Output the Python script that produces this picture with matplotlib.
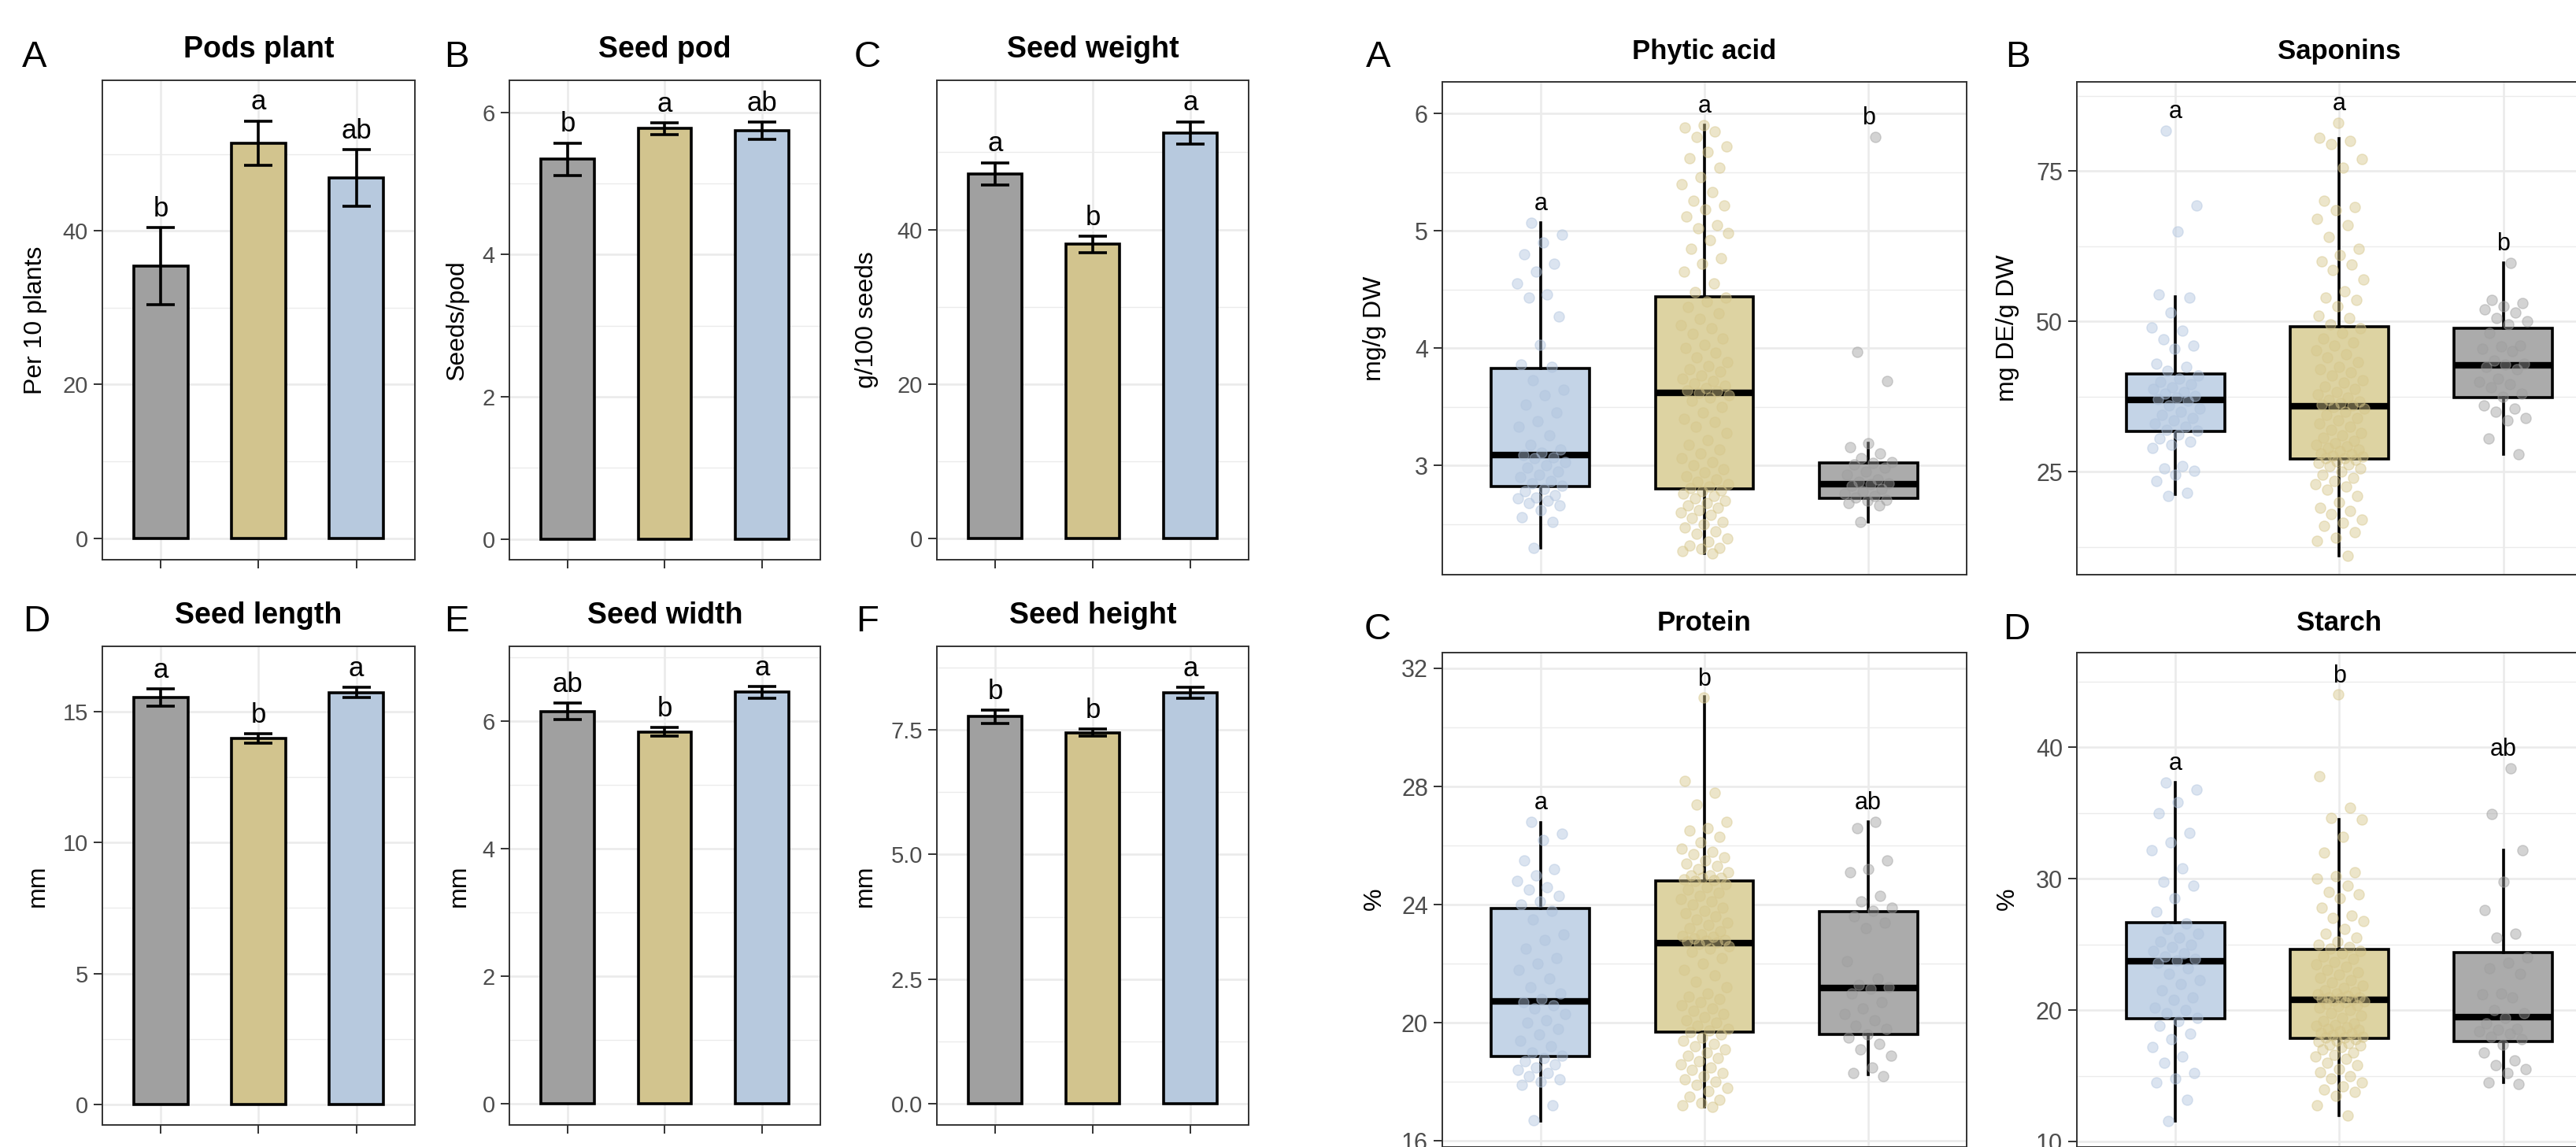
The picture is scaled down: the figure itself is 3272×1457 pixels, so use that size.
import matplotlib.pyplot as plt
import numpy as np

plt.rcParams["font.family"] = ["Liberation Sans", "DejaVu Sans"]

W, H = 3273, 1457
DPI = 100

# ---------------- bar panels (left figure) ----------------
bar_titles = ["Pods plant", "Seed pod", "Seed weight", "Seed length", "Seed width", "Seed height"]
bar_tags = ["A", "B", "C", "D", "E", "F"]
bar_ylabels = ["Per 10 plants", "Seeds/pod", "g/100 seeds", "mm", "mm", "mm"]
bar_means = [
    [35.4, 51.4, 46.9],
    [5.34, 5.77, 5.74],
    [47.2, 38.1, 52.5],
    [15.54, 13.97, 15.73],
    [6.15, 5.83, 6.45],
    [7.76, 7.44, 8.24],
]
bar_se = [
    [5.05, 2.9, 3.65],
    [0.23, 0.08, 0.125],
    [1.45, 1.05, 1.45],
    [0.33, 0.19, 0.20],
    [0.13, 0.065, 0.09],
    [0.13, 0.075, 0.105],
]
bar_letters = [
    ["b", "a", "ab"],
    ["b", "a", "ab"],
    ["a", "b", "a"],
    ["a", "b", "a"],
    ["ab", "b", "a"],
    ["b", "b", "a"],
]
bar_major = [[0, 20, 40], [0, 2, 4, 6], [0, 20, 40], [0, 5, 10, 15], [0, 2, 4, 6], [0, 2.5, 5.0, 7.5]]
bar_minor = [[10, 30, 50], [1, 3, 5], [10, 30, 50], [2.5, 7.5, 12.5], [1, 3, 5, 7], [1.25, 3.75, 6.25, 8.75]]
bar_tick_fmt = ["{:.0f}", "{:.0f}", "{:.0f}", "{:.0f}", "{:.0f}", "{:.1f}"]
bar_ylim = [(-2.8, 59.6), (-0.29, 6.45), (-2.7, 59.3), (-0.78, 17.49), (-0.33, 7.17), (-0.42, 9.17)]
bar_colors = ["#A0A0A0", "#D2C48E", "#B7C9DE"]

# ---------------- box panels (right figure) ----------------
box_titles = ["Phytic acid", "Saponins", "Protein", "Starch"]
box_tags = ["A", "B", "C", "D"]
box_ylabels = ["mg/g DW", "mg DE/g DW", "%", "%"]
box_letters = [["a", "a", "b"], ["a", "a", "b"], ["a", "b", "ab"], ["a", "b", "ab"]]
# q1, median, q3, lower whisker, upper whisker per group (blue, yellow, gray)
box_stats = [
    [(2.82, 3.09, 3.83, 2.30, 5.07), (2.80, 3.62, 4.44, 2.25, 5.90), (2.72, 2.84, 3.02, 2.52, 3.19)],
    [(31.7, 37.0, 41.3, 21.2, 54.1), (27.1, 35.9, 49.1, 11.0, 80.4), (37.3, 42.7, 48.8, 27.9, 59.7)],
    [(18.86, 20.72, 23.87, 16.67, 26.78), (19.68, 22.70, 24.80, 17.16, 31.05), (19.6, 21.17, 23.76, 18.25, 26.8)],
    [(19.35, 23.74, 26.65, 11.6, 37.3), (17.86, 20.77, 24.6, 12.0, 34.5), (17.6, 19.45, 24.4, 14.5, 32.2)],
]
box_major = [[3, 4, 5, 6], [25, 50, 75], [16, 20, 24, 28, 32], [10, 20, 30, 40]]
box_minor = [[2.5, 3.5, 4.5, 5.5], [12.5, 37.5, 62.5, 87.5], [18, 22, 26, 30], [15, 25, 35, 45]]
box_ylim = [(2.07, 6.27), (7.9, 89.8), (15.8, 32.53), (9.6, 47.2)]

phytic_blue = [5.07, 4.97, 4.90, 4.80, 4.72, 4.65, 4.55, 4.46, 4.43, 4.27, 4.03, 3.86,
               3.84, 3.73, 3.65, 3.60, 3.52, 3.45, 3.38, 3.33, 3.26, 3.18, 3.14, 3.11,
               3.09, 3.07, 3.06, 3.03, 3.00, 2.98, 2.95, 2.92, 2.90, 2.87, 2.85, 2.83,
               2.80, 2.78, 2.75, 2.73, 2.72, 2.70, 2.68, 2.66, 2.62, 2.56, 2.52, 2.30]
phytic_yellow = [5.90, 5.88, 5.85, 5.80, 5.72, 5.67, 5.62, 5.54, 5.46, 5.40, 5.33, 5.26, 5.22,
                 5.18, 5.12, 5.05, 5.02, 4.98, 4.92, 4.85, 4.77, 4.72, 4.65, 4.55, 4.48,
                 4.43, 4.40, 4.35, 4.30, 4.25, 4.20, 4.17, 4.12, 4.08, 4.03, 4.00, 3.96, 3.92,
                 3.88, 3.85, 3.82, 3.80, 3.77, 3.74, 3.72, 3.70, 3.68, 3.66, 3.64, 3.63,
                 3.62, 3.60, 3.58, 3.55, 3.50, 3.45, 3.40, 3.37, 3.33, 3.28, 3.22, 3.18, 3.14,
                 3.10, 3.06, 3.03, 3.00, 2.97, 2.94, 2.91, 2.88, 2.86, 2.84, 2.82, 2.81,
                 2.79, 2.78, 2.76, 2.74, 2.72, 2.70, 2.68, 2.66, 2.64, 2.62, 2.60, 2.58, 2.55,
                 2.52, 2.50, 2.47, 2.44, 2.42, 2.38, 2.35, 2.32, 2.30, 2.29, 2.27, 2.25]
phytic_gray = [5.80, 3.97, 3.72, 3.19, 3.16, 3.10, 3.06, 3.03, 3.02, 3.01, 2.98, 2.95, 2.92, 2.88,
               2.86, 2.85, 2.84, 2.83, 2.80, 2.78, 2.76, 2.74, 2.73, 2.71, 2.70, 2.68, 2.66, 2.52]

saponin_blue = [81.7, 69.2, 65.0, 54.5, 54.0, 51.5, 49.0, 48.5, 47.0, 46.0, 45.5, 43.0, 42.5, 41.8,
                41.0, 40.5, 40.0, 39.5, 39.0, 38.8, 38.2, 38.0, 37.6, 37.3, 37.1,
                36.8, 36.0, 35.5, 35.0, 34.5, 34.0, 33.5, 33.0, 32.5, 32.0, 31.8,
                31.2, 30.5, 30.0, 29.5, 29.0, 26.0, 25.5, 25.2, 24.5, 23.5, 21.5, 21.0]
saponin_yellow = [83.0, 80.5, 80.0, 79.5, 77.0, 75.5, 70.0, 69.0, 68.5, 67.0, 66.0, 64.0, 62.0,
                  61.0, 60.0, 59.5, 58.5, 57.0, 55.0, 54.0, 53.5, 52.5, 51.0, 50.5, 49.5,
                  48.8, 48.0, 47.2, 46.5, 46.0, 45.2, 44.5, 44.0, 43.2, 42.5, 42.0, 41.5, 41.0,
                  40.2, 39.8, 39.2, 38.8, 38.3, 37.8, 37.4, 37.0, 36.7, 36.4, 36.2, 36.0,
                  35.8, 35.5, 35.0, 34.5, 34.0, 33.5, 33.0, 32.5, 32.0, 31.5, 31.0, 30.6, 30.2,
                  29.8, 29.5, 29.2, 29.0, 28.7, 28.4, 28.1, 27.9, 27.7, 27.5, 27.3, 27.2,
                  27.0, 26.8, 26.5, 26.2, 26.0, 25.5, 25.0, 24.5, 24.0, 23.5, 23.0, 22.5, 22.0,
                  21.0, 20.0, 19.0, 18.5, 18.0, 17.0, 16.5, 16.0, 15.0, 14.0, 13.5, 11.0]
saponin_gray = [59.7, 53.5, 53.0, 52.5, 52.0, 51.5, 50.5, 50.0, 49.5, 48.0, 46.0, 45.8, 45.5, 45.0,
                43.5, 43.0, 42.8, 42.5, 42.0, 40.5, 40.0, 39.5, 39.0, 38.0, 37.5, 36.0, 35.5,
                35.0, 34.0, 33.5, 30.5, 27.9]

protein_blue = [26.8, 26.4, 26.2, 25.5, 25.2, 25.0, 24.8, 24.6, 24.5, 24.3, 24.1, 24.0,
                23.8, 23.5, 23.0, 22.8, 22.5, 22.2, 22.0, 21.8, 21.5, 21.2, 21.0, 20.8,
                20.7, 20.6, 20.5, 20.3, 20.1, 20.0, 19.8, 19.6, 19.4, 19.2, 19.0, 18.9,
                18.8, 18.7, 18.6, 18.5, 18.4, 18.3, 18.2, 18.1, 18.0, 17.9, 17.2, 16.7]
protein_yellow = [31.0, 28.2, 27.8, 27.4, 26.8, 26.6, 26.5, 26.3, 26.1, 25.9, 25.8, 25.7, 25.6,
                  25.5, 25.4, 25.3, 25.2, 25.1, 25.0, 25.0, 24.9, 24.9, 24.85, 24.82, 24.81,
                  24.7, 24.6, 24.5, 24.4, 24.3, 24.2, 24.1, 24.0, 23.9, 23.8, 23.7, 23.6, 23.5,
                  23.4, 23.3, 23.2, 23.1, 23.0, 22.95, 22.9, 22.85, 22.8, 22.78, 22.75, 22.72,
                  22.68, 22.6, 22.5, 22.4, 22.2, 22.0, 21.8, 21.6, 21.4, 21.2, 21.0, 20.9, 20.8,
                  20.7, 20.6, 20.5, 20.4, 20.3, 20.2, 20.1, 20.0, 19.9, 19.8, 19.75, 19.7,
                  19.6, 19.5, 19.4, 19.3, 19.2, 19.1, 19.0, 18.9, 18.8, 18.7, 18.6, 18.5, 18.4,
                  18.3, 18.2, 18.1, 18.0, 17.9, 17.8, 17.7, 17.5, 17.4, 17.3, 17.2, 17.16]
protein_gray = [26.8, 26.6, 25.5, 25.2, 25.1, 24.3, 24.1, 23.9, 23.8, 23.6, 23.4, 23.2, 22.1,
                21.5, 21.3, 21.2, 21.15, 21.0, 20.7, 20.5, 20.3, 20.1, 19.9, 19.8, 19.6, 19.5,
                19.3, 19.1, 18.9, 18.5, 18.3, 18.2]

starch_blue = [37.3, 36.8, 35.8, 35.0, 33.5, 32.8, 32.2, 30.8, 29.8, 29.5, 28.5, 27.5,
               26.6, 26.2, 25.8, 25.5, 25.2, 25.0, 24.8, 24.5, 24.3, 24.1, 23.9, 23.8,
               23.6, 23.2, 22.8, 22.3, 22.0, 21.5, 21.0, 20.8, 20.2, 20.0, 19.8, 19.4,
               19.2, 18.8, 18.2, 17.8, 17.2, 16.5, 16.0, 15.2, 14.8, 14.5, 13.2, 11.6]
starch_yellow = [44.0, 37.8, 35.4, 34.6, 34.5, 33.2, 32.0, 30.5, 30.2, 30.0, 29.5, 29.0, 28.8,
                 28.5, 27.8, 27.2, 27.0, 26.8, 26.2, 25.8, 25.5, 25.2, 25.0, 24.8, 24.7,
                 24.5, 24.3, 24.1, 23.9, 23.7, 23.5, 23.3, 23.1, 22.9, 22.7, 22.5, 22.3, 22.1,
                 21.9, 21.7, 21.5, 21.4, 21.3, 21.2, 21.1, 21.0, 20.95, 20.9, 20.85, 20.8,
                 20.75, 20.7, 20.6, 20.5, 20.4, 20.3, 20.2, 20.0, 19.8, 19.6, 19.4, 19.2, 19.0,
                 18.9, 18.8, 18.7, 18.6, 18.5, 18.4, 18.3, 18.2, 18.1, 18.0, 17.95, 17.9,
                 17.8, 17.7, 17.6, 17.5, 17.4, 17.3, 17.2, 17.0, 16.8, 16.6, 16.5, 16.3, 16.0,
                 15.8, 15.5, 15.3, 15.0, 14.8, 14.5, 14.2, 14.0, 13.8, 13.5, 12.8, 12.0]
starch_gray = [38.4, 34.9, 32.2, 29.8, 27.6, 25.8, 25.5, 24.0, 23.6, 23.2, 22.8, 21.3, 21.2, 21.0,
               20.0, 19.8, 19.4, 19.0, 18.6, 18.5, 18.4, 18.2, 18.0, 17.8, 17.4, 16.8, 16.2,
               15.8, 15.5, 15.2, 14.5, 14.4]

box_points = [
    [phytic_blue, phytic_yellow, phytic_gray],
    [saponin_blue, saponin_yellow, saponin_gray],
    [protein_blue, protein_yellow, protein_gray],
    [starch_blue, starch_yellow, starch_gray],
]
box_fill = ["#C4D4E7", "#DDD3A2", "#ABABAB"]
point_colors = ["#B0C4DE", "#D6C68A", "#9E9E9E"]

GRID = "#EBEBEB"
FRAME = "#333333"
TICKLAB = "#4D4D4D"

fig = plt.figure(figsize=(W / DPI, H / DPI), dpi=DPI)


def add_ax(l, t, r, b):
    return fig.add_axes([l / W, 1 - b / H, (r - l) / W, (b - t) / H])


def style(ax, major, minor, fmt, labsize, xticks):
    ax.set_xlim(-0.6, 2.6)
    ax.set_xticks([0, 1, 2])
    ax.set_xticklabels([])
    ax.set_yticks(major)
    ax.set_yticklabels([fmt.format(v) for v in major])
    ax.set_yticks(minor, minor=True)
    ax.grid(which="major", color=GRID, lw=1.9)
    ax.grid(which="minor", axis="y", color=GRID, lw=1.0)
    ax.set_axisbelow(True)
    for s in ax.spines.values():
        s.set_color(FRAME)
        s.set_linewidth(1.4)
    ax.tick_params(axis="y", which="major", length=8, width=1.4, color=FRAME,
                   labelcolor=TICKLAB, labelsize=labsize, pad=5)
    ax.tick_params(axis="x", which="major", length=8 if xticks else 0, width=1.4, color=FRAME)
    ax.tick_params(which="minor", length=0)


# left figure panel boxes (pixels): left, top, right, bottom
bar_cols = [(130, 527), (647, 1042), (1190, 1586)]
bar_rows = [(102, 711), (821, 1429)]
bar_tag_pos = [(28, 85), (564, 85), (1085, 85), (29, 802), (564, 802), (1087, 802)]
bar_ylab_x = [45, 581, 1101, 48, 583, 1099]

for i in range(6):
    (l, r), (t, b) = bar_cols[i % 3], bar_rows[i // 3]
    ax = add_ax(l, t, r, b)
    style(ax, bar_major[i], bar_minor[i], bar_tick_fmt[i], 21, True)
    ax.set_ylim(*bar_ylim[i])
    x = np.arange(3)
    ax.bar(x, bar_means[i], width=0.55, color=bar_colors, edgecolor="black", linewidth=2.6, zorder=2)
    ax.errorbar(x, bar_means[i], yerr=bar_se[i], fmt="none", ecolor="black",
                elinewidth=2.6, capsize=13, capthick=2.6, zorder=3)
    rng = bar_ylim[i][1] - bar_ylim[i][0]
    for k in range(3):
        ax.text(k, bar_means[i][k] + bar_se[i][k] + 0.012 * rng, bar_letters[i][k],
                ha="center", va="bottom", fontsize=25, color="black")
    fig.text((l + r) / 2 / W, 1 - (73 if i < 3 else 792) / H, bar_titles[i],
             ha="center", va="baseline", fontsize=27, fontweight="bold")
    tx, ty = bar_tag_pos[i]
    fig.text(tx / W, 1 - ty / H, bar_tags[i], ha="left", va="baseline", fontsize=34)
    fig.text(bar_ylab_x[i] / W, 1 - (t + b) / 2 / H, bar_ylabels[i], rotation=90,
             ha="center", va="center", fontsize=23)

# right figure
box_cols = [(1832, 2498), (2638, 3305)]
box_rows = [(104, 730), (829, 1457)]
box_tag_pos = [(1735, 85), (2547, 85), (1733, 812), (2544, 812)]
box_title_y = [75, 75, 801, 801]
box_ylab_x = [1746, 2550, 1746, 2550]
box_ylab_y = [417, 417, 1142, 1142]

for i in range(4):
    (l, r), (t, b) = box_cols[i % 2], box_rows[i // 2]
    ax = add_ax(l, t, r, b)
    stats = []
    for q1, med, q3, lo, hi in box_stats[i]:
        stats.append({"q1": q1, "med": med, "q3": q3, "whislo": lo, "whishi": hi, "fliers": []})
    bp = ax.bxp(stats, positions=[0, 1, 2], widths=0.6, patch_artist=True, showcaps=False,
                showfliers=False, manage_ticks=False,
                boxprops=dict(edgecolor="black", linewidth=2.6),
                whiskerprops=dict(color="black", linewidth=2.6),
                medianprops=dict(color="black", linewidth=6, solid_capstyle="butt"))
    for patch, c in zip(bp["boxes"], box_fill):
        patch.set_facecolor(c)
        patch.set_zorder(2)
    for ln in bp["whiskers"] + bp["medians"]:
        ln.set_zorder(2.5)
    style(ax, box_major[i], box_minor[i], "{:g}", 22, False)
    ax.set_ylim(*box_ylim[i])
    rng = box_ylim[i][1] - box_ylim[i][0]
    for k in range(3):
        vals = np.array(box_points[i][k])
        n = len(vals)
        jit = 0.15 * (2 * ((np.arange(n) * 0.6180339887 + 0.31 + 0.17 * k) % 1) - 1)
        ax.scatter(k + jit, vals, s=90, color=point_colors[k], alpha=0.45,
                   edgecolors=point_colors[k], linewidths=1.0, zorder=3)
        ax.text(k, vals.max() + 0.038 * rng, box_letters[i][k], ha="center", va="center",
                fontsize=22, color="black", zorder=4)
    fig.text((l + r) / 2 / W, 1 - box_title_y[i] / H, box_titles[i],
             ha="center", va="baseline", fontsize=25, fontweight="bold")
    tx, ty = box_tag_pos[i]
    fig.text(tx / W, 1 - ty / H, box_tags[i], ha="left", va="baseline", fontsize=34)
    fig.text(box_ylab_x[i] / W, 1 - box_ylab_y[i] / H, box_ylabels[i], rotation=90,
             ha="center", va="center", fontsize=23)

fig.savefig("out.png", dpi=DPI, facecolor="white")
